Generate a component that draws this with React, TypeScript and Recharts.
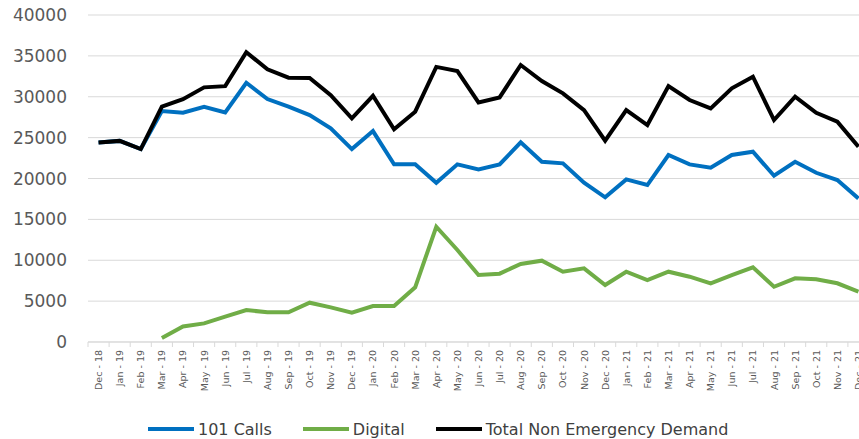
import { LineChart, Line, XAxis, YAxis, CartesianGrid } from "recharts";

const months = [
  "Dec - 18", "Jan - 19", "Feb - 19", "Mar - 19", "Apr - 19", "May - 19", "Jun - 19",
  "Jul - 19", "Aug - 19", "Sep - 19", "Oct - 19", "Nov - 19", "Dec - 19", "Jan - 20",
  "Feb - 20", "Mar - 20", "Apr - 20", "May - 20", "Jun - 20", "Jul - 20", "Aug - 20",
  "Sep - 20", "Oct - 20", "Nov - 20", "Dec - 20", "Jan - 21", "Feb - 21", "Mar - 21",
  "Apr - 21", "May - 21", "Jun - 21", "Jul - 21", "Aug - 21", "Sep - 21", "Oct - 21",
  "Nov - 21", "Dec - 21",
];

const calls = [
  24400, 24600, 23600, 28250, 28050, 28780, 28090, 31710, 29720, 28780, 27760, 26130,
  23600, 25800, 21730, 21730, 19480, 21730, 21120, 21730, 24420, 22050, 21850, 19480,
  17700, 19890, 19200, 22870, 21730, 21320, 22870, 23270, 20340, 22050, 20700, 19810,
  17570,
];

const digital = [
  null, null, null, 500, 1900, 2280, 3100, 3910, 3630, 3630, 4810, 4240,
  3590, 4400, 4400, 6690, 14100, 11250, 8190, 8360, 9540, 9950, 8600, 9010,
  6970, 8600, 7580, 8600, 7990, 7180, 8190, 9130, 6760, 7790, 7670, 7180,
  6150,
];

const total = [
  24400, 24600, 23600, 28780, 29700, 31150, 31300, 35450, 33350, 32330, 32300, 30200,
  27360, 30120, 26010, 28170, 33650, 33140, 29310, 29920, 33880, 31920, 30410, 28370,
  24620, 28370, 26540, 31310, 29600, 28580, 31030, 32450, 27150, 30000, 28040, 26940,
  23880,
];

const yTicks = [0, 5000, 10000, 15000, 20000, 25000, 30000, 35000, 40000];

const series = [
  { key: "calls", name: "101 Calls", color: "#0070C0" },
  { key: "digital", name: "Digital", color: "#70AD47" },
  { key: "total", name: "Total Non Emergency Demand", color: "#000000" },
];

const data = months.map((m, i) => ({
  month: m,
  calls: calls[i],
  digital: digital[i],
  total: total[i],
}));

const FONT = "DejaVu Sans";
const CHART_W = 875;
const PLOT_LEFT = 88;
const PLOT_RIGHT = 869;
const BAND = (PLOT_RIGHT - PLOT_LEFT) / months.length;

const XTick = ({ x, y, payload }: any) => (
  <g>
    <line x1={x - BAND / 2} x2={x - BAND / 2} y1={y - 8} y2={y - 3} stroke="#d9d9d9" />
    <text
      x={0}
      y={0}
      transform={`translate(${x},${y}) rotate(-90)`}
      textAnchor="end"
      dominantBaseline="central"
      fontSize={9.5}
      fill="#595959"
      fontFamily={FONT}
    >
      {payload.value}
    </text>
  </g>
);

export default function App() {
  return (
    <div
      style={{
        position: "absolute",
        left: 0,
        top: 0,
        width: 859,
        height: 439,
        overflow: "hidden",
        background: "#ffffff",
      }}
    >
      <LineChart
        width={CHART_W}
        height={410}
        data={data}
        margin={{ top: 15, right: CHART_W - PLOT_RIGHT, left: 0, bottom: 8 }}
      >
        <CartesianGrid vertical={false} stroke="#d9d9d9" strokeWidth={1} />
        <XAxis
          dataKey="month"
          interval={0}
          height={60}
          padding={{ left: BAND / 2, right: BAND / 2 }}
          tick={<XTick />}
          tickLine={false}
          axisLine={{ stroke: "#d9d9d9" }}
        />
        <YAxis
          width={PLOT_LEFT}
          domain={[0, 40000]}
          ticks={yTicks}
          axisLine={false}
          tickLine={false}
          tickMargin={15}
          tick={{ fill: "#595959", fontSize: 17, fontFamily: FONT }}
        />
        {series.map((s) => (
          <Line
            key={s.key}
            type="linear"
            dataKey={s.key}
            name={s.name}
            stroke={s.color}
            strokeWidth={4}
            dot={false}
            activeDot={false}
            isAnimationActive={false}
          />
        ))}
      </LineChart>
      <div
        style={{
          position: "absolute",
          left: 148,
          top: 419,
          height: 20,
          display: "flex",
          alignItems: "center",
          fontFamily: FONT,
          fontSize: 16,
          color: "#404040",
          whiteSpace: "nowrap",
        }}
      >
        {series.map((s) => (
          <div key={s.key} style={{ display: "flex", alignItems: "center", marginRight: 31 }}>
            <span
              style={{
                display: "inline-block",
                width: 46,
                height: 4,
                background: s.color,
                marginRight: 4,
              }}
            />
            <span>{s.name}</span>
          </div>
        ))}
      </div>
    </div>
  );
}
